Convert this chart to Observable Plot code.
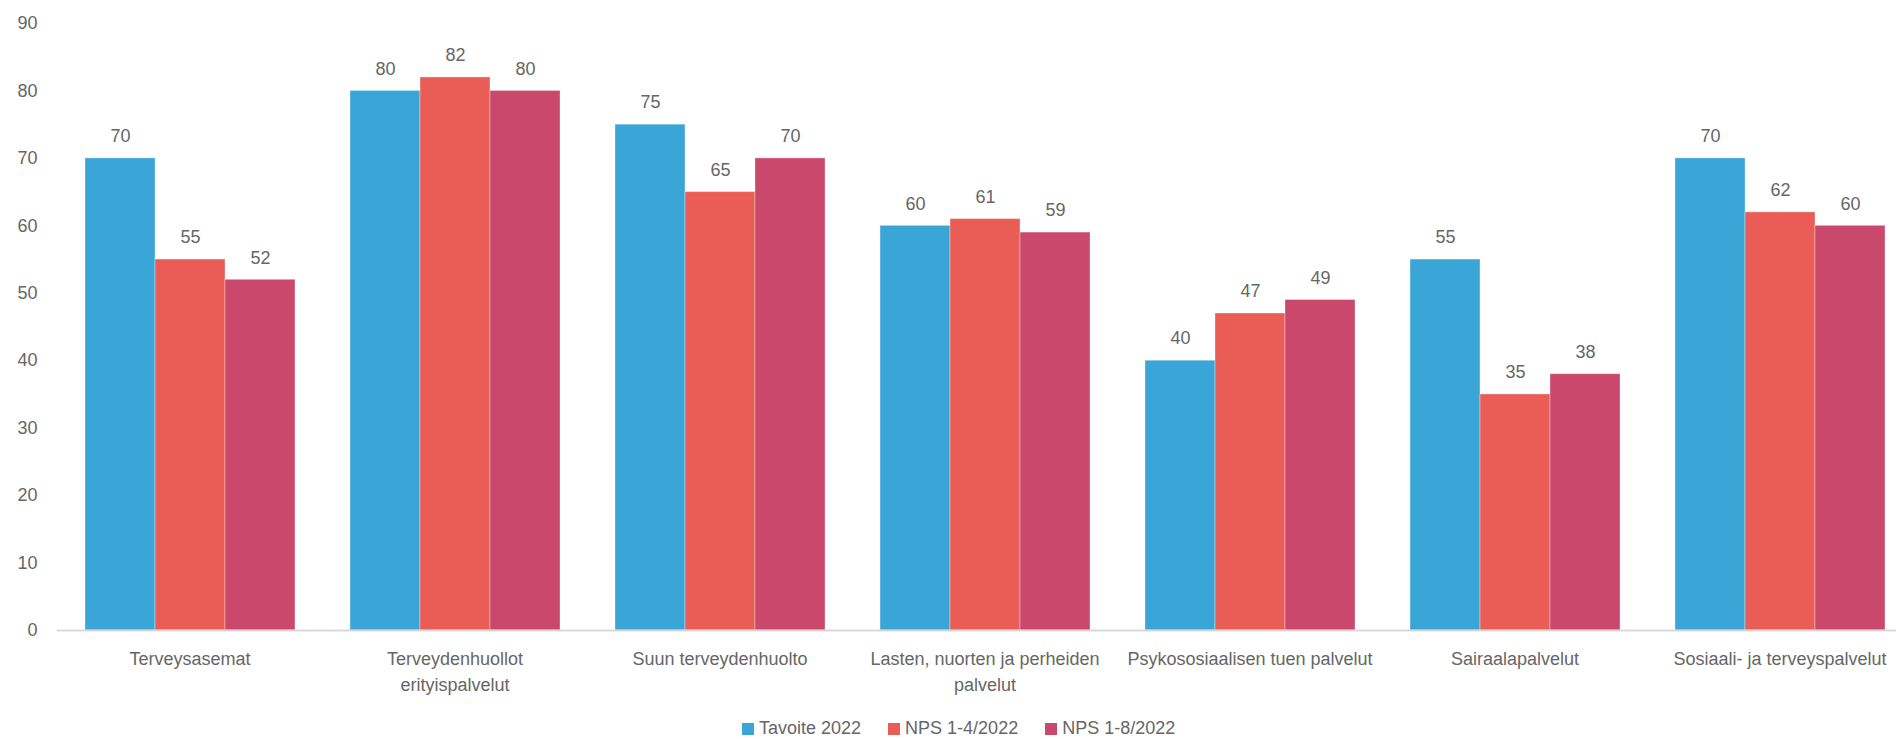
<!DOCTYPE html>
<html>
<head>
<meta charset="utf-8">
<script src="https://cdn.jsdelivr.net/npm/d3@7"></script>
<script src="https://cdn.jsdelivr.net/npm/@observablehq/plot@0.6"></script>
<style>
  html, body { margin: 0; padding: 0; background: #fff; overflow: hidden; width: 1896px; height: 739px; }
  #chart { position: absolute; left: 0; top: 0; width: 1913px; }
  #chart svg { max-width: none !important; }
  #legend { position: absolute; top: 718px; left: 742px; display: flex; align-items: center; font-family: "Liberation Sans", Arial, sans-serif; font-size: 18px; color: #666; white-space: nowrap; }
  #legend .item { display: flex; align-items: center; margin-right: 27px; }
  #legend .sw { width: 12px; height: 12px; margin-right: 5px; }
</style>
</head>
<body>
<div id="chart"></div>
<div id="legend"></div>
<script>
const categories = [
  "Terveysasemat",
  "Terveydenhuollot\nerityispalvelut",
  "Suun terveydenhuolto",
  "Lasten, nuorten ja perheiden\npalvelut",
  "Psykososiaalisen tuen palvelut",
  "Sairaalapalvelut",
  "Sosiaali- ja terveyspalvelut"
];
const series = ["Tavoite 2022", "NPS 1-4/2022", "NPS 1-8/2022"];
const tavoite2022 = [70, 80, 75, 60, 40, 55, 70];
const nps1_4_2022 = [55, 82, 65, 61, 47, 35, 62];
const nps1_8_2022 = [52, 80, 70, 59, 49, 38, 60];
const colors = ["#3AA6D8", "#EA5D56", "#C9486C"];
const yTicks = [0, 10, 20, 30, 40, 50, 60, 70, 80, 90];

const seriesValues = [tavoite2022, nps1_4_2022, nps1_8_2022];
const rows = [];
categories.forEach((c, i) => {
  series.forEach((s, j) => rows.push({category: c, series: s, value: seriesValues[j][i]}));
});

const font = "'Liberation Sans', Arial, sans-serif";
const textColor = "#666";

const chart = Plot.plot({
  width: 1913,
  height: 712,
  marginLeft: 56,
  marginRight: 0,
  marginTop: 23,
  marginBottom: 82,
  style: {fontFamily: font, fontSize: "18px", color: textColor, background: "white"},
  fx: {domain: categories, padding: 0, label: null},
  x: {domain: series, paddingInner: 0, paddingOuter: 0.375, axis: null},
  y: {domain: [0, 90], label: null},
  color: {domain: series, range: colors},
  marks: [
    Plot.axisY(yTicks, {tickSize: 0, tickPadding: 20, label: null, fontSize: 18, fill: textColor}),
    Plot.axisFx({anchor: "bottom", tickSize: 0, tickPadding: 17, label: null, fontSize: 18, lineHeight: 1.4, fill: textColor}),
    Plot.barY(rows, {fx: "category", x: "series", y: "value", fill: "series", stroke: "#ffffff", strokeOpacity: 0.35, strokeWidth: 1}),
    Plot.ruleY([0], {stroke: "#d9d9d9", strokeWidth: 2}),
    Plot.text(rows, {fx: "category", x: "series", y: "value", text: d => String(d.value), dy: -22, fill: textColor, fontSize: 18})
  ]
});
document.getElementById("chart").appendChild(chart);

const legend = document.getElementById("legend");
series.forEach((s, j) => {
  const item = document.createElement("div");
  item.className = "item";
  const sw = document.createElement("span");
  sw.className = "sw";
  sw.style.background = colors[j];
  const t = document.createElement("span");
  t.textContent = s;
  item.appendChild(sw);
  item.appendChild(t);
  legend.appendChild(item);
});
</script>
</body>
</html>
